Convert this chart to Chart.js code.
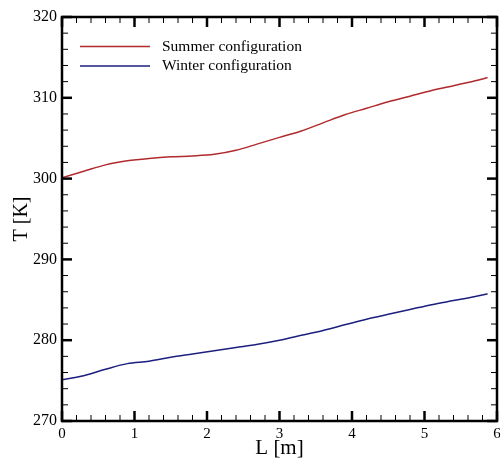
<!DOCTYPE html>
<html>
<head>
<meta charset="utf-8">
<script src="https://cdn.jsdelivr.net/npm/chart.js@4/dist/chart.umd.min.js"></script>
<style>
  html, body { margin: 0; padding: 0; background: #fff; }
  #wrap { width: 500px; height: 461px; }
</style>
</head>
<body>
<div id="wrap"><canvas id="tchart"></canvas></div>
<script>
// L [m] sample positions, shared by both curves
const lengths = [0, 0.3, 0.6, 0.9, 1.2, 1.5, 1.8, 2.1, 2.4, 2.7, 3.0, 3.3, 3.6, 3.9, 4.2, 4.5, 4.8, 5.1, 5.4, 5.7, 5.87];
const summerT = [300.1, 300.9, 301.7, 302.2, 302.5, 302.7, 302.8, 303.0, 303.5, 304.3, 305.1, 305.9, 306.9, 307.9, 308.7, 309.5, 310.2, 310.9, 311.5, 312.1, 312.5];
const winterT = [275.1, 275.6, 276.4, 277.1, 277.4, 277.9, 278.3, 278.7, 279.1, 279.5, 280.0, 280.6, 281.2, 281.9, 282.6, 283.2, 283.8, 284.4, 284.9, 285.4, 285.75];
const seriesNames = ['Summer configuration', 'Winter configuration'];
const xTicks = [0, 1, 2, 3, 4, 5, 6];
const yTicks = [270, 280, 290, 300, 310, 320];

const serif = '"Liberation Serif", "Times New Roman", serif';

function toPoints(ys) {
  return lengths.map((x, i) => ({ x: x, y: ys[i] }));
}

// inward major/minor ticks on all four sides + heavy frame
const frameTicks = {
  id: 'frameTicks',
  afterDraw(chart) {
    const { ctx, chartArea: a, scales: { x, y } } = chart;
    ctx.save();
    ctx.strokeStyle = '#000';
    ctx.lineCap = 'butt';

    function tick(px, py, dx, dy, w) {
      ctx.lineWidth = w;
      ctx.beginPath();
      ctx.moveTo(px, py);
      ctx.lineTo(px + dx, py + dy);
      ctx.stroke();
    }

    for (let i = 0; i <= 30; i++) {
      const v = i * 0.2;
      const px = x.getPixelForValue(v);
      const major = i % 5 === 0;
      const len = major ? 10 : 6;
      const w = major ? 2.5 : 1;
      tick(px, a.bottom, 0, -len, w);
      tick(px, a.top, 0, len, w);
    }
    for (let i = 0; i <= 25; i++) {
      const v = 270 + i * 2;
      const py = y.getPixelForValue(v);
      const major = i % 5 === 0;
      const len = major ? 10 : 6;
      const w = major ? 2.5 : 1;
      tick(a.left, py, len, 0, w);
      tick(a.right, py, -len, 0, w);
    }

    ctx.lineWidth = 2.5;
    ctx.strokeRect(a.left, a.top, a.right - a.left, a.bottom - a.top);

    // legend
    const rows = [46.5, 66];
    chart.data.datasets.forEach((ds, i) => {
      const ly = a.top + rows[i] - 17;
      ctx.strokeStyle = ds.borderColor;
      ctx.lineWidth = 1.5;
      ctx.beginPath();
      ctx.moveTo(a.left + 18, ly);
      ctx.lineTo(a.left + 88, ly);
      ctx.stroke();
      ctx.fillStyle = '#000';
      ctx.font = '15.5px ' + serif;
      ctx.textBaseline = 'middle';
      ctx.textAlign = 'left';
      ctx.fillText(ds.label, a.left + 100, ly);
    });
    ctx.restore();
  }
};

new Chart(document.getElementById('tchart'), {
  type: 'line',
  data: {
    datasets: [
      {
        label: seriesNames[0],
        data: toPoints(summerT),
        borderColor: '#b02a2e',
        borderWidth: 1.5,
        pointRadius: 0,
        cubicInterpolationMode: 'monotone'
      },
      {
        label: seriesNames[1],
        data: toPoints(winterT),
        borderColor: '#1c1f7e',
        borderWidth: 1.5,
        pointRadius: 0,
        cubicInterpolationMode: 'monotone'
      }
    ]
  },
  options: {
    responsive: true,
    maintainAspectRatio: false,
    animation: false,
    layout: { padding: { top: 17, right: 3, left: 0, bottom: 0 } },
    plugins: {
      legend: { display: false },
      tooltip: { enabled: false }
    },
    scales: {
      x: {
        type: 'linear',
        min: 0,
        max: 6,
        afterBuildTicks: scale => { scale.ticks = xTicks.map(v => ({ value: v })); },
        afterFit: scale => { scale.height = 40; scale.paddingRight = 0; scale.paddingLeft = 0; },
        grid: { display: false, drawTicks: false },
        border: { display: false },
        ticks: { color: '#000', padding: 4, font: { family: serif, size: 15 }, maxRotation: 0 },
        title: { display: true, text: 'L [m]', color: '#000', font: { family: serif, size: 21 }, padding: { top: 0, bottom: 0 } }
      },
      y: {
        min: 270,
        max: 320,
        afterBuildTicks: scale => { scale.ticks = yTicks.map(v => ({ value: v })); },
        afterFit: scale => { scale.width = 62; scale.paddingTop = 0; scale.paddingBottom = 0; },
        grid: { display: false, drawTicks: false },
        border: { display: false },
        ticks: { color: '#000', padding: 5, font: { family: serif, size: 16 } },
        title: { display: true, text: 'T [K]', color: '#000', font: { family: serif, size: 20 }, padding: { top: 10, bottom: 0 } }
      }
    }
  },
  plugins: [frameTicks]
});
</script>
</body>
</html>
